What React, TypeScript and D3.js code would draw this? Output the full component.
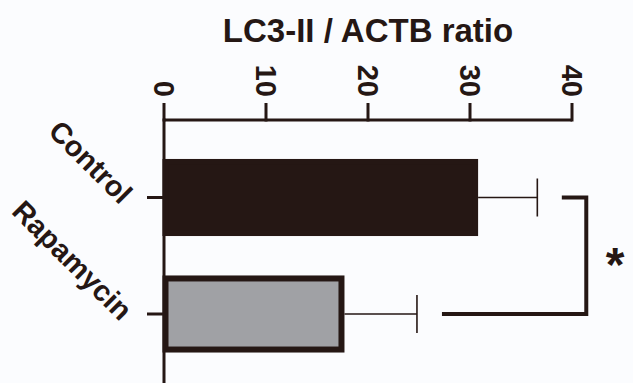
import React from "react";
import * as d3 from "d3";

const categories = ["Control", "Rapamycin"];
const values = [30.5, 17.4];
const errors = [6.1, 7.4];
const xTicks = [0, 10, 20, 30, 40];
const titleText = "LC3-II / ACTB ratio";
const sigLabel = "*";

const W = 633;
const H = 383;
const DARK = "#251714";
const GRAY = "#a0a1a5";
const FONT = "'Liberation Sans', Arial, Helvetica, sans-serif";

export default function App() {
  const x = d3.scaleLinear().domain([0, 40]).range([164, 572]);
  const y = d3
    .scaleBand<string>()
    .domain(categories)
    .range([139.25, 372.25])
    .paddingInner(0.39)
    .paddingOuter(0.195);
  const bw = y.bandwidth();
  const axisY = 120;
  const fills = [DARK, GRAY];

  const capEnds = values.map((v, i) => x(v + errors[i]));
  const bracketX = x(41.4);
  const c0 = (y(categories[0]) as number) + bw / 2;
  const c1 = (y(categories[1]) as number) + bw / 2;

  return (
    <svg
      width={W}
      height={H}
      style={{ position: "fixed", left: 0, top: 0, background: "#fbfcfe" }}
    >
      <rect x={0} y={0} width={W} height={H} fill="#fbfcfe" />
      <text
        x={368}
        y={42}
        textAnchor="middle"
        fontFamily={FONT}
        fontWeight="bold"
        fontSize={33}
        fill={DARK}
      >
        {titleText}
      </text>

      {/* bars */}
      {categories.map((c, i) => {
        const yy = y(c) as number;
        const cy = yy + bw / 2;
        return (
          <g key={c}>
            <rect
              x={x(0) + 1.5}
              y={yy}
              width={x(values[i]) - x(0) - 1.5}
              height={bw}
              fill={fills[i]}
              stroke={DARK}
              strokeWidth={6}
            />
            <line
              x1={x(values[i]) + 3}
              x2={capEnds[i]}
              y1={cy}
              y2={cy}
              stroke={DARK}
              strokeWidth={1.6}
            />
            <line
              x1={capEnds[i]}
              x2={capEnds[i]}
              y1={cy - 19}
              y2={cy + 19}
              stroke={DARK}
              strokeWidth={1.6}
            />
          </g>
        );
      })}

      {/* top axis */}
      <line x1={x(0)} x2={x(40)} y1={axisY} y2={axisY} stroke={DARK} strokeWidth={3} />
      {xTicks.map((t) => (
        <g key={t}>
          <line
            x1={x(t)}
            x2={x(t)}
            y1={axisY + 1.5}
            y2={axisY - 17}
            stroke={DARK}
            strokeWidth={3}
          />
          <text
            transform={`translate(${x(t)},97) rotate(90)`}
            textAnchor="end"
            dominantBaseline="central"
            fontFamily={FONT}
            fontWeight="bold"
            fontSize={29}
            fill={DARK}
          >
            {t}
          </text>
        </g>
      ))}

      {/* left axis */}
      <line x1={x(0)} x2={x(0)} y1={axisY - 1.5} y2={H} stroke={DARK} strokeWidth={3} />
      {categories.map((c) => {
        const cy = (y(c) as number) + bw / 2;
        return (
          <g key={c}>
            <line x1={x(0)} x2={x(0) - 17} y1={cy} y2={cy} stroke={DARK} strokeWidth={3} />
            <text
              transform={`translate(127,${cy + 1}) rotate(45)`}
              textAnchor="end"
              dominantBaseline="central"
              fontFamily={FONT}
              fontWeight="bold"
              fontSize={29}
              fill={DARK}
            >
              {c}
            </text>
          </g>
        );
      })}

      {/* significance bracket */}
      <path
        d={`M${capEnds[0] + 24.5},${c0} H${bracketX} V${c1} H${capEnds[1] + 25}`}
        fill="none"
        stroke={DARK}
        strokeWidth={4}
      />
      <text
        x={615}
        y={255}
        textAnchor="middle"
        dominantBaseline="central"
        dy="0.2em"
        fontFamily={FONT}
        fontWeight="bold"
        fontSize={48}
        fill={DARK}
      >
        {sigLabel}
      </text>
    </svg>
  );
}
